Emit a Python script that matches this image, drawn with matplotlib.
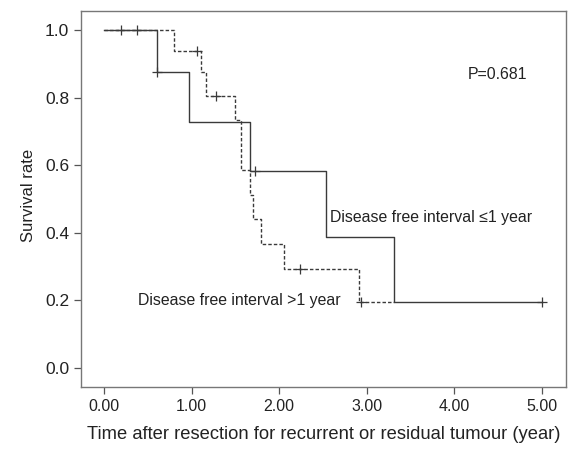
import matplotlib
matplotlib.use("Agg")
import matplotlib.pyplot as plt

plt.rcParams['font.family'] = ['Liberation Sans', 'DejaVu Sans']

# Kaplan-Meier steps, disease free interval <=1 year (solid)
t_short = [0.00, 0.60, 0.97, 1.665, 2.53, 3.31, 5.00]
s_short = [1.000, 0.875, 0.729, 0.583, 0.389, 0.194, 0.194]
cens_short_t = [0.19, 0.37, 0.60, 1.72, 5.00]
cens_short_s = [1.000, 1.000, 0.875, 0.583, 0.194]

# disease free interval >1 year (dashed)
t_long = [0.00, 0.80, 1.10, 1.16, 1.49, 1.56, 1.67, 1.70, 1.79, 2.05, 2.91, 3.31]
s_long = [1.000, 0.938, 0.875, 0.805, 0.734, 0.587, 0.513, 0.440, 0.367, 0.294, 0.196, 0.196]
cens_long_t = [1.06, 1.28, 2.24, 2.94]
cens_long_s = [0.938, 0.805, 0.294, 0.196]

xticks = [0, 1, 2, 3, 4, 5]
xticklabels = ["0.00", "1.00", "2.00", "3.00", "4.00", "5.00"]
yticks = [0.0, 0.2, 0.4, 0.6, 0.8, 1.0]

line_col = "#3a3a3a"
fig = plt.figure(figsize=(5.76, 4.49), dpi=100)
ax = fig.add_axes([81 / 576, 1 - 387 / 449, 485 / 576, 376 / 449])

ax.step(t_long, s_long, where="post", color=line_col, lw=1.0, linestyle=(0, (2.5, 1.5)))
ax.step(t_short, s_short, where="post", color=line_col, lw=1.0)
ax.plot(cens_short_t, cens_short_s, "+", color=line_col, ms=7, mew=0.9)
ax.plot(cens_long_t, cens_long_s, "+", color=line_col, ms=7, mew=0.9)

ax.text(4.49, 0.867, "P=0.681", fontsize=11.4, color="#222222", ha="center", va="center")
ax.text(2.585, 0.444, "Disease free interval \u22641 year", fontsize=11.4, color="#222222", va="center")
ax.text(0.385, 0.201, "Disease free interval >1 year", fontsize=11.4, color="#222222", va="center")

ax.set_xlim(-0.266, 5.278)
ax.set_ylim(-0.056, 1.056)
ax.set_xticks(xticks)
ax.set_xticklabels(xticklabels)
ax.set_yticks(yticks)
ax.set_yticklabels([f"{v:.1f}" for v in yticks])
ax.tick_params(direction="out", length=5, width=0.9, colors="#555555", labelcolor="#222222", labelsize=11.5)
ax.tick_params(axis="y", labelsize=12.5)
for sp in ax.spines.values():
    sp.set_color("#777777")
    sp.set_linewidth(1.0)

ax.set_xlabel("Time after resection for recurrent or residual tumour (year)", fontsize=13.2,
              color="#222222", labelpad=9)
ax.set_ylabel("Survival rate", fontsize=12, color="#222222")
ax.yaxis.set_label_coords(-0.092, 0.51)

fig.savefig("out.png", dpi=100)
